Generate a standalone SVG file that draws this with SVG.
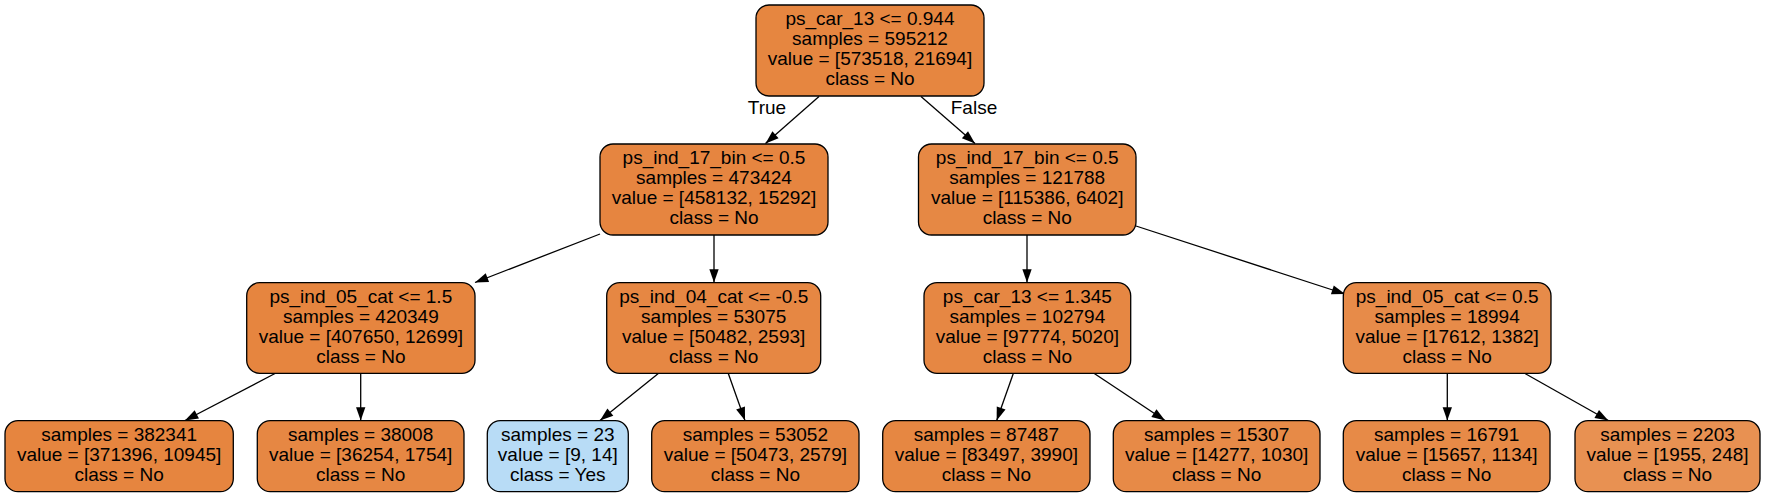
<svg xmlns="http://www.w3.org/2000/svg" width="1765" height="497" viewBox="0 0 1765 497">
<style>
  .box { stroke: #000; stroke-width: 1.3; }
  text { font-family: "Liberation Sans", Arial, Helvetica, sans-serif; font-size: 19px; fill: #000; text-anchor: middle; }
  .edge { stroke: #000; stroke-width: 1.3; fill: none; marker-end: url(#arr); }
</style>
<defs>
  <marker id="arr" markerUnits="userSpaceOnUse" markerWidth="14" markerHeight="10" refX="13.3" refY="4.67" orient="auto" overflow="visible">
    <path d="M0,0 L13.3,4.67 L0,9.33 Z" fill="#000"/>
  </marker>
</defs>
<rect x="0" y="0" width="1765" height="497" fill="#fff"/>

<g id="connectors">
  <line class="edge" x1="819" y1="96.5" x2="765.5" y2="143.5"/>
  <line class="edge" x1="921" y1="96.5" x2="975" y2="143.5"/>
  <line class="edge" x1="600" y1="234" x2="475" y2="282.5"/>
  <line class="edge" x1="714" y1="235" x2="714" y2="282.5"/>
  <line class="edge" x1="1027" y1="235" x2="1027" y2="282.5"/>
  <line class="edge" x1="1136" y1="226" x2="1345" y2="294"/>
  <line class="edge" x1="275" y1="373.5" x2="185" y2="420.5"/>
  <line class="edge" x1="360.7" y1="373.5" x2="360.7" y2="420.5"/>
  <line class="edge" x1="658.3" y1="373.5" x2="600" y2="420.5"/>
  <line class="edge" x1="728.3" y1="373.5" x2="745" y2="420.5"/>
  <line class="edge" x1="1013.3" y1="373.5" x2="996.7" y2="420.5"/>
  <line class="edge" x1="1094.3" y1="373.5" x2="1165" y2="420.5"/>
  <line class="edge" x1="1447.3" y1="373.5" x2="1447.3" y2="420.5"/>
  <line class="edge" x1="1525" y1="373.5" x2="1608.3" y2="420.5"/>
  <text x="767" y="114">True</text>
  <text x="974" y="114">False</text>
</g>

<g id="n0">
  <rect class="box" x="756" y="5" width="228" height="91" rx="13" fill="#e68640"/>
  <text x="870" y="25">ps_car_13 &lt;= 0.944</text>
  <text x="870" y="45">samples = 595212</text>
  <text x="870" y="65">value = [573518, 21694]</text>
  <text x="870" y="85">class = No</text>
</g>

<g id="n1">
  <rect class="box" x="600" y="144" width="228" height="91" rx="13" fill="#e68540"/>
  <text x="714" y="164">ps_ind_17_bin &lt;= 0.5</text>
  <text x="714" y="184">samples = 473424</text>
  <text x="714" y="204">value = [458132, 15292]</text>
  <text x="714" y="224">class = No</text>
</g>

<g id="n8">
  <rect class="box" x="918.5" y="144" width="217.5" height="91" rx="13" fill="#e68844"/>
  <text x="1027.25" y="164">ps_ind_17_bin &lt;= 0.5</text>
  <text x="1027.25" y="184">samples = 121788</text>
  <text x="1027.25" y="204">value = [115386, 6402]</text>
  <text x="1027.25" y="224">class = No</text>
</g>

<g id="n2">
  <rect class="box" x="246.7" y="282.7" width="228.3" height="90.6" rx="13" fill="#e6853f"/>
  <text x="360.85" y="302.5">ps_ind_05_cat &lt;= 1.5</text>
  <text x="360.85" y="322.5">samples = 420349</text>
  <text x="360.85" y="342.5">value = [407650, 12699]</text>
  <text x="360.85" y="362.5">class = No</text>
</g>

<g id="n5">
  <rect class="box" x="606.7" y="282.7" width="214" height="90.6" rx="13" fill="#e68743"/>
  <text x="713.7" y="302.5">ps_ind_04_cat &lt;= -0.5</text>
  <text x="713.7" y="322.5">samples = 53075</text>
  <text x="713.7" y="342.5">value = [50482, 2593]</text>
  <text x="713.7" y="362.5">class = No</text>
</g>

<g id="n9">
  <rect class="box" x="924" y="282.7" width="206.7" height="90.6" rx="13" fill="#e68743"/>
  <text x="1027.35" y="302.5">ps_car_13 &lt;= 1.345</text>
  <text x="1027.35" y="322.5">samples = 102794</text>
  <text x="1027.35" y="342.5">value = [97774, 5020]</text>
  <text x="1027.35" y="362.5">class = No</text>
</g>

<g id="n12">
  <rect class="box" x="1343.3" y="282.7" width="207.7" height="90.6" rx="13" fill="#e78b49"/>
  <text x="1447.15" y="302.5">ps_ind_05_cat &lt;= 0.5</text>
  <text x="1447.15" y="322.5">samples = 18994</text>
  <text x="1447.15" y="342.5">value = [17612, 1382]</text>
  <text x="1447.15" y="362.5">class = No</text>
</g>

<g id="n3">
  <rect class="box" x="5" y="420.7" width="228.3" height="71" rx="13" fill="#e6853f"/>
  <text x="119.15" y="441.2">samples = 382341</text>
  <text x="119.15" y="461.2">value = [371396, 10945]</text>
  <text x="119.15" y="481.2">class = No</text>
</g>

<g id="n4">
  <rect class="box" x="257.3" y="420.7" width="206.7" height="71" rx="13" fill="#e68743"/>
  <text x="360.65" y="441.2">samples = 38008</text>
  <text x="360.65" y="461.2">value = [36254, 1754]</text>
  <text x="360.65" y="481.2">class = No</text>
</g>

<g id="n6">
  <rect class="box" x="487.3" y="420.7" width="141" height="71" rx="13" fill="#b8dcf6"/>
  <text x="557.8" y="441.2">samples = 23</text>
  <text x="557.8" y="461.2">value = [9, 14]</text>
  <text x="557.8" y="481.2">class = Yes</text>
</g>

<g id="n7">
  <rect class="box" x="651.7" y="420.7" width="207.3" height="71" rx="13" fill="#e68743"/>
  <text x="755.35" y="441.2">samples = 53052</text>
  <text x="755.35" y="461.2">value = [50473, 2579]</text>
  <text x="755.35" y="481.2">class = No</text>
</g>

<g id="n10">
  <rect class="box" x="882.7" y="420.7" width="207.3" height="71" rx="13" fill="#e68742"/>
  <text x="986.35" y="441.2">samples = 87487</text>
  <text x="986.35" y="461.2">value = [83497, 3990]</text>
  <text x="986.35" y="481.2">class = No</text>
</g>

<g id="n11">
  <rect class="box" x="1113.3" y="420.7" width="206.7" height="71" rx="13" fill="#e78a47"/>
  <text x="1216.65" y="441.2">samples = 15307</text>
  <text x="1216.65" y="461.2">value = [14277, 1030]</text>
  <text x="1216.65" y="481.2">class = No</text>
</g>

<g id="n13">
  <rect class="box" x="1343.3" y="420.7" width="206.7" height="71" rx="13" fill="#e78a47"/>
  <text x="1446.65" y="441.2">samples = 16791</text>
  <text x="1446.65" y="461.2">value = [15657, 1134]</text>
  <text x="1446.65" y="481.2">class = No</text>
</g>

<g id="n14">
  <rect class="box" x="1575" y="420.7" width="185" height="71" rx="13" fill="#e89152"/>
  <text x="1667.5" y="441.2">samples = 2203</text>
  <text x="1667.5" y="461.2">value = [1955, 248]</text>
  <text x="1667.5" y="481.2">class = No</text>
</g>
</svg>
